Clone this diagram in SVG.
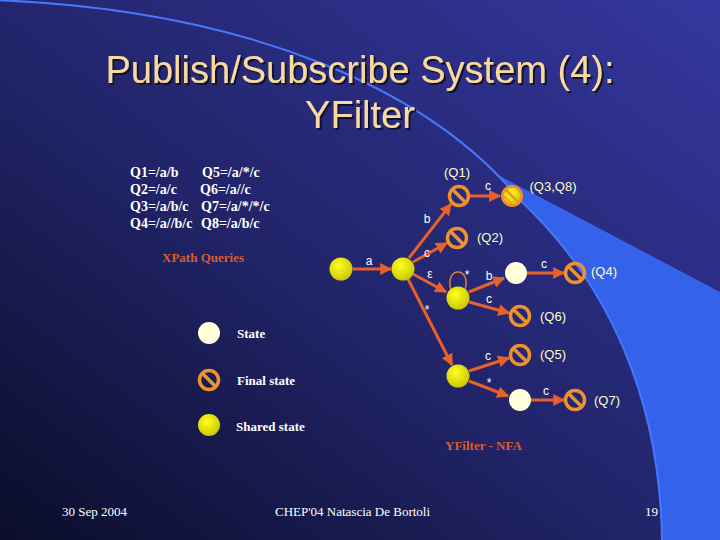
<svg xmlns="http://www.w3.org/2000/svg" width="720" height="540" viewBox="0 0 720 540">
<defs>
<linearGradient id="bg" x1="0" y1="1" x2="1" y2="0">
<stop offset="0" stop-color="#0b0d2a"/>
<stop offset="0.45" stop-color="#212468"/>
<stop offset="1" stop-color="#34379e"/>
</linearGradient>
<radialGradient id="yel" cx="0.4" cy="0.35" r="0.7">
<stop offset="0" stop-color="#ffff20"/>
<stop offset="1" stop-color="#c8c400"/>
</radialGradient>
<filter id="shadow" x="-5%" y="-20%" width="110%" height="140%">
<feDropShadow dx="2" dy="2" stdDeviation="0.6" flood-color="#0a0a28" flood-opacity="0.9"/>
</filter>
<marker id="ah" viewBox="0 0 10 10" refX="9" refY="5" markerWidth="4" markerHeight="4" orient="auto" markerUnits="strokeWidth">
<path d="M0,0 L10,5 L0,10 z" fill="#e8602a"/>
</marker>
<g id="fin">
<circle r="9.5" fill="none" stroke="#f0922c" stroke-width="3.5"/>
<line x1="-6.5" y1="-6.5" x2="6.5" y2="6.5" stroke="#f0922c" stroke-width="3.5"/>
</g>
</defs>
<style>
.ttl{font-family:"Liberation Sans",Arial,sans-serif;font-size:38px;fill:#f8d9a0;text-anchor:middle;filter:url(#shadow)}
.q{font-family:"Liberation Serif","Times New Roman",serif;font-size:14px;font-weight:bold;fill:#ffffff}
.org{font-family:"Liberation Serif","Times New Roman",serif;font-size:13px;font-weight:bold;fill:#d85c2c}
.leg{font-family:"Liberation Serif","Times New Roman",serif;font-size:13px;font-weight:bold;fill:#ffffff}
.ft{font-family:"Liberation Serif","Times New Roman",serif;font-size:13px;fill:#ffffff}
.el{font-family:"Liberation Sans",Arial,sans-serif;font-size:12px;fill:#ffffff;text-anchor:middle}
.ql{font-family:"Liberation Sans",Arial,sans-serif;font-size:13px;fill:#ffffc8;text-anchor:middle}
.e{stroke:#e8602a;stroke-width:3;fill:none;marker-end:url(#ah)}
.st{fill:#ffffdc}
.sd{fill:url(#yel)}
</style>
<rect width="720" height="540" fill="url(#bg)"/>
<path d="M500,176 L720,292 L720,540 L662,540 C660,400 610,285 520,200 Z" fill="#3562ea"/>
<path d="M-5,0 C250,10 430,90 520,200 C610,285 660,400 662,540" fill="none" stroke="#4677ff" stroke-width="2"/>

<g id="title">
<text class="ttl" x="360" y="83">Publish/Subscribe System (4):</text>
<text class="ttl" x="360" y="128">YFilter</text>
</g>

<g id="queries">
<text class="q" x="130" y="177">Q1=/a/b</text>
<text class="q" x="130" y="194">Q2=/a/c</text>
<text class="q" x="130" y="211">Q3=/a/b/c</text>
<text class="q" x="130" y="228">Q4=/a//b/c</text>
<text class="q" x="202" y="177">Q5=/a/*/c</text>
<text class="q" x="200" y="194">Q6=/a//c</text>
<text class="q" x="201" y="211">Q7=/a/*/*/c</text>
<text class="q" x="201" y="228">Q8=/a/b/c</text>
<text class="org" x="162" y="262">XPath Queries</text>
</g>

<g id="legend">
<circle class="st" cx="209" cy="333" r="11"/>
<text class="leg" x="237" y="338">State</text>
<use href="#fin" x="209" y="380"/>
<text class="leg" x="237" y="385">Final state</text>
<circle class="sd" cx="209" cy="425" r="11"/>
<text class="leg" x="236" y="431">Shared state</text>
</g>

<g id="connectors">
<line class="e" x1="353" y1="269" x2="391" y2="269"/>
<line class="e" x1="409" y1="258" x2="451" y2="204"/>
<line class="e" x1="413" y1="262" x2="447" y2="243"/>
<line class="e" x1="413" y1="274" x2="446" y2="292"/>
<line class="e" x1="408" y1="279" x2="452" y2="365"/>
<line class="e" x1="470" y1="196" x2="500" y2="196"/>
<line class="e" x1="469" y1="292" x2="504" y2="278"/>
<line class="e" x1="469" y1="302" x2="509" y2="313"/>
<line class="e" x1="527" y1="273" x2="564" y2="273"/>
<line class="e" x1="469" y1="371" x2="509" y2="358"/>
<line class="e" x1="469" y1="381" x2="508" y2="396"/>
<line class="e" x1="531" y1="400" x2="564" y2="400"/>
<path d="M451,290 C444,266 472,266 465,290" fill="none" stroke="#e0803a" stroke-width="1.5"/>
<text class="el" x="369" y="265">a</text>
<text class="el" x="427" y="223">b</text>
<text class="el" x="488" y="190">c</text>
<text class="el" x="427" y="257">c</text>
<text class="el" x="430" y="278">ε</text>
<text class="el" x="467" y="279">*</text>
<text class="el" x="489" y="280">b</text>
<text class="el" x="544" y="268">c</text>
<text class="el" x="489" y="303">c</text>
<text class="el" x="427" y="314">*</text>
<text class="el" x="488" y="360">c</text>
<text class="el" x="489" y="387">*</text>
<text class="el" x="546" y="395">c</text>
</g>

<g id="n0"><circle class="sd" cx="341" cy="269" r="11.5"/></g>
<g id="n1"><circle class="sd" cx="403" cy="269" r="11.5"/></g>
<g id="q1"><use href="#fin" x="459" y="196"/><text class="ql" x="457" y="177">(Q1)</text></g>
<g id="q38">
<circle class="sd" cx="512" cy="196" r="9.5"/>
<circle cx="512" cy="196" r="9.5" fill="none" stroke="#f0922c" stroke-width="3"/>
<line x1="506" y1="190" x2="518" y2="202" stroke="#f0922c" stroke-width="2.5"/>
<line x1="504" y1="196" x2="512" y2="204" stroke="#f0922c" stroke-width="1.5"/>
<text class="ql" x="553" y="191">(Q3,Q8)</text>
</g>
<g id="q2"><use href="#fin" x="457" y="238"/><text class="ql" x="490" y="242">(Q2)</text></g>
<g id="n2"><circle class="sd" cx="458" cy="298" r="11.5"/></g>
<g id="n3"><circle class="st" cx="516" cy="273" r="11"/></g>
<g id="q4"><use href="#fin" x="575" y="273"/><text class="ql" x="604" y="276">(Q4)</text></g>
<g id="q6"><use href="#fin" x="520" y="316"/><text class="ql" x="553" y="321">(Q6)</text></g>
<g id="n4"><circle class="sd" cx="458" cy="376" r="11.5"/></g>
<g id="q5"><use href="#fin" x="520" y="355"/><text class="ql" x="553" y="359">(Q5)</text></g>
<g id="n5"><circle class="st" cx="520" cy="400" r="11"/></g>
<g id="q7"><use href="#fin" x="575" y="400"/><text class="ql" x="607" y="405">(Q7)</text></g>

<text class="org" x="445" y="450">YFilter - NFA</text>

<g id="footer">
<text class="ft" x="62" y="516">30 Sep 2004</text>
<text class="ft" x="275" y="516">CHEP'04  Natascia De Bortoli</text>
<text class="ft" x="645" y="516">19</text>
</g>
</svg>
